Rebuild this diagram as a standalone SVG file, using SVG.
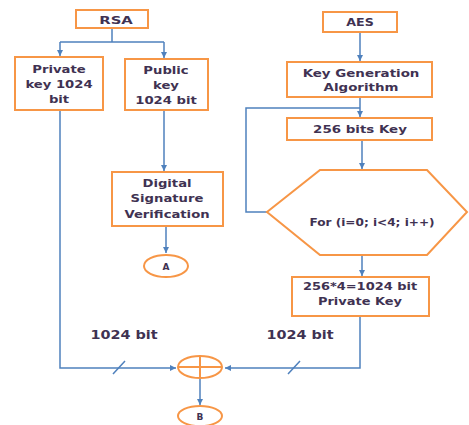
<svg xmlns="http://www.w3.org/2000/svg" width="469" height="425" viewBox="0 0 469 425">
<style>
.box{fill:#fff;stroke:#F79646;stroke-width:2}
.ln{fill:none;stroke:#4F81BD;stroke-width:1.5}
.t{font-family:"DejaVu Sans",sans-serif;font-size:11px;font-weight:bold;fill:#3F3252;text-anchor:middle}
.s{font-size:9px}
.big{font-size:12px}
</style>
<defs>
<marker id="ah" markerWidth="8" markerHeight="8" refX="6" refY="3" orient="auto" markerUnits="userSpaceOnUse">
<path d="M0,0 L6,3 L0,6 Z" fill="#4F81BD"/>
</marker>
</defs>
<rect width="469" height="425" fill="#fff"/>
<g id="connectors">
<path class="ln" d="M112,28 V42 M60,42 H164"/>
<path class="ln" d="M60,42 V56" marker-end="url(#ah)"/>
<path class="ln" d="M164,42 V58" marker-end="url(#ah)"/>
<path class="ln" d="M164,110 V171" marker-end="url(#ah)"/>
<path class="ln" d="M166,226 V253" marker-end="url(#ah)"/>
<path class="ln" d="M360,32 V61" marker-end="url(#ah)"/>
<path class="ln" d="M360,97 V117" marker-end="url(#ah)"/>
<path class="ln" d="M267,212 H246 V108 H360"/>
<path class="ln" d="M362,140 V169" marker-end="url(#ah)"/>
<path class="ln" d="M362,255 V276" marker-end="url(#ah)"/>
<path class="ln" d="M60,110 V368 H176" marker-end="url(#ah)"/>
<path class="ln" d="M360,316 V368 H225" marker-end="url(#ah)"/>
<path class="ln" d="M200,379 V405" marker-end="url(#ah)"/>
<path class="ln" d="M113,374 L125,361 M288,374 L300,361"/>
</g>
<g id="rsa"><rect class="box" x="76" y="10" width="72" height="18"/><text class="t" transform="matrix(1.35 0 0 1 116 24)">RSA</text></g>
<g id="private-key"><rect class="box" x="15" y="57" width="88" height="53"/>
<text class="t" transform="matrix(1.2 0 0 1 59 73)">Private</text>
<text class="t" transform="matrix(1.2 0 0 1 59 88)">key 1024</text>
<text class="t" transform="matrix(1.2 0 0 1 59 103)">bit</text></g>
<g id="public-key"><rect class="box" x="125" y="59" width="83" height="51"/>
<text class="t" transform="matrix(1.2 0 0 1 166 74)">Public</text>
<text class="t" transform="matrix(1.2 0 0 1 166 89)">key</text>
<text class="t" transform="matrix(1.2 0 0 1 166 104)">1024 bit</text></g>
<g id="dsv"><rect class="box" x="112" y="172" width="111" height="54"/>
<text class="t" transform="matrix(1.2 0 0 1 167 187)">Digital</text>
<text class="t" transform="matrix(1.2 0 0 1 167 202)">Signature</text>
<text class="t" transform="matrix(1.2 0 0 1 167 218)">Verification</text></g>
<g id="A"><ellipse class="box" cx="166" cy="266" rx="22" ry="11"/><text class="t s" x="166" y="270">A</text></g>
<g id="aes"><rect class="box" x="323" y="12" width="74" height="20"/><text class="t" transform="matrix(1.15 0 0 1 360 26)">AES</text></g>
<g id="keygen"><rect class="box" x="287" y="62" width="145" height="35"/>
<text class="t" transform="matrix(1.22 0 0 1 361 77)">Key Generation</text>
<text class="t" transform="matrix(1.22 0 0 1 361 91)">Algorithm</text></g>
<g id="key256"><rect class="box" x="287" y="118" width="145" height="22"/><text class="t" transform="matrix(1.22 0 0 1 360 133)">256 bits Key</text></g>
<g id="loop"><polygon class="box" points="320,170 427,170 467,212 427,255 320,255 267,212"/><text class="t" transform="matrix(1.1 0 0 1 372 226)">For (i=0; i&lt;4; i++)</text></g>
<g id="privkey1024"><rect class="box" x="292" y="277" width="137" height="39"/>
<text class="t" transform="matrix(1.18 0 0 1 360 290)">256*4=1024 bit</text>
<text class="t" transform="matrix(1.18 0 0 1 360 305)">Private Key</text></g>
<g id="xor"><ellipse class="box" cx="200" cy="367" rx="22" ry="11"/><path d="M178,367 H222 M200,356 V378" stroke="#F79646" stroke-width="2"/></g>
<g id="B"><ellipse class="box" cx="200" cy="416" rx="22" ry="10"/><text class="t s" x="200" y="420">B</text></g>
<g id="labels"><text class="t big" transform="matrix(1.2 0 0 1 124 339)">1024 bit</text><text class="t big" transform="matrix(1.2 0 0 1 300 339)">1024 bit</text></g>
</svg>
